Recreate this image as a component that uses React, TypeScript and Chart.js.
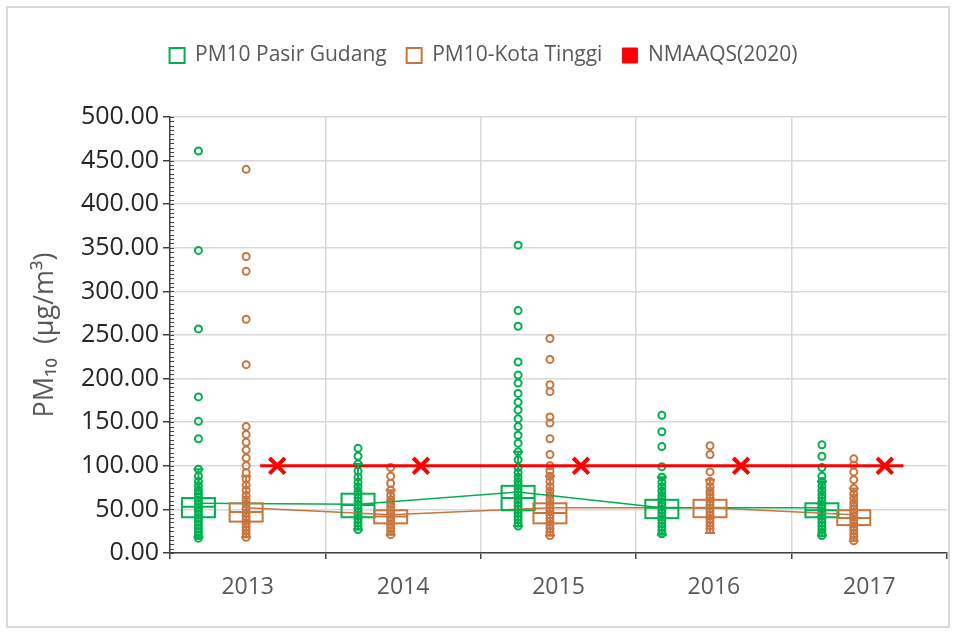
import React, { useEffect, useRef } from 'react';
import { Chart, registerables } from 'chart.js';

Chart.register(...registerables);

const years = ['2013', '2014', '2015', '2016', '2017'];

// x positions (in year-units, 0..5) of each column
const pasirX = [0.183, 1.21, 2.24, 3.165, 4.195];
const kotaX = [0.49, 1.42, 2.445, 3.475, 4.4];
const limitX = [0.69, 1.615, 2.645, 3.675, 4.6];
const limitLineEnds = [0.58, 4.72];
const limitValue = 100;

const yTicksMax = 500;
const yTickStep = 50;

// PM10 Pasir Gudang daily values by year
const pasir2013 = [461, 347, 257, 179, 151, 131, 96, 88, 82, 77, 72, 68, 64, 60, 56, 52, 48, 44, 40, 36, 32, 28, 24, 20, 17];
const pasir2014 = [120, 111, 102, 94, 87, 81, 76, 71, 67, 63, 59, 55, 51, 47, 43, 39, 35, 31, 27];
const pasir2015 = [353, 278, 260, 219, 204, 195, 183, 173, 164, 154, 145, 135, 126, 116, 107, 98, 92, 87, 82, 78, 74, 70, 66, 62, 58, 54, 50, 46, 42, 38, 34, 31];
const pasir2016 = [158, 139, 122, 99, 87, 81, 76, 71, 66, 62, 58, 54, 50, 46, 42, 38, 34, 30, 26, 22];
const pasir2017 = [124, 111, 98, 88, 82, 77, 72, 67, 63, 59, 55, 51, 47, 43, 39, 35, 31, 27, 23, 20];

// PM10 Kota Tinggi daily values by year
const kota2013 = [440, 340, 323, 268, 216, 145, 136, 127, 118, 109, 100, 92, 85, 78, 72, 66, 61, 56, 51, 46, 42, 38, 34, 30, 26, 22, 18];
const kota2014 = [98, 88, 80, 72, 66, 61, 57, 53, 49, 45, 41, 37, 33, 29, 25, 21];
const kota2015 = [246, 222, 193, 185, 156, 149, 131, 113, 100, 94, 88, 82, 76, 71, 66, 61, 56, 52, 48, 44, 40, 36, 32, 28, 24, 20];
const kota2016 = [123, 113, 93, 82, 76, 71, 67, 63, 59, 55, 51, 47, 43, 39, 35, 31, 27];
const kota2017 = [108, 101, 93, 84, 74, 68, 63, 58, 54, 50, 46, 42, 38, 34, 30, 26, 22, 18, 14];

const pasirValues = [pasir2013, pasir2014, pasir2015, pasir2016, pasir2017];
const kotaValues = [kota2013, kota2014, kota2015, kota2016, kota2017];

// summary statistics
const pasirMean = [57, 56, 70, 52, 52];
const pasirQ1 = [41, 41, 49, 40, 41];
const pasirMedian = [53, 55, 63, 52, 49];
const pasirQ3 = [63, 68, 77, 61, 57];
const pasirWhiskerLow = [18, 27, 31, 21, 20];
const pasirWhiskerHigh = [96, 102, 116, 87, 82];

const kotaMean = [52, 44, 52, 52, 44];
const kotaQ1 = [36, 34, 34, 41, 32];
const kotaMedian = [47, 42, 46, 52, 40];
const kotaQ3 = [57, 49, 57, 61, 49];
const kotaWhiskerLow = [18, 21, 20, 23, 14];
const kotaWhiskerHigh = [88, 72, 88, 84, 74];

const GREEN = '#00B050';
const BROWN = '#C8763F';
const RED = '#FF0000';
const FONT = '"Open Sans", Lato, sans-serif';

const boxPlugin = {
  id: 'boxStats',
  afterDatasetsDraw(chart: any) {
    const { ctx, scales } = chart;
    const x = scales.x;
    const y = scales.y;
    const groups = [
      { xs: pasirX, q1: pasirQ1, med: pasirMedian, q3: pasirQ3, lo: pasirWhiskerLow, hi: pasirWhiskerHigh, color: GREEN },
      { xs: kotaX, q1: kotaQ1, med: kotaMedian, q3: kotaQ3, lo: kotaWhiskerLow, hi: kotaWhiskerHigh, color: BROWN },
    ];
    ctx.save();
    for (const g of groups) {
      ctx.strokeStyle = g.color;
      ctx.lineWidth = 2;
      for (let i = 0; i < g.xs.length; i++) {
        const cx = x.getPixelForValue(g.xs[i]);
        const top = y.getPixelForValue(g.q3[i]);
        const bot = y.getPixelForValue(g.q1[i]);
        const med = y.getPixelForValue(g.med[i]);
        const lo = y.getPixelForValue(g.lo[i]);
        const hi = y.getPixelForValue(g.hi[i]);
        const hw = 16.5;
        const cap = 5;
        ctx.beginPath();
        ctx.moveTo(cx, lo);
        ctx.lineTo(cx, hi);
        ctx.moveTo(cx - cap, lo);
        ctx.lineTo(cx + cap, lo);
        ctx.moveTo(cx - cap, hi);
        ctx.lineTo(cx + cap, hi);
        ctx.stroke();
        ctx.strokeRect(cx - hw, top, hw * 2, bot - top);
        ctx.beginPath();
        ctx.moveTo(cx - hw, med);
        ctx.lineTo(cx + hw, med);
        ctx.stroke();
      }
    }
    ctx.restore();
  },
};

const minorTickPlugin = {
  id: 'minorTicks',
  afterDraw(chart: any) {
    const { ctx, scales } = chart;
    const y = scales.y;
    const left = chart.chartArea.left;
    ctx.save();
    ctx.strokeStyle = '#404040';
    ctx.lineWidth = 1;
    for (let v = 0; v <= yTicksMax; v += yTickStep / 10) {
      const py = Math.round(y.getPixelForValue(v)) + 0.5;
      ctx.beginPath();
      ctx.moveTo(left, py);
      ctx.lineTo(left + 4, py);
      ctx.stroke();
    }
    ctx.restore();
  },
};

const legendSpacer = {
  id: 'legendSpacer',
  beforeInit(chart: any) {
    const legend = chart.legend;
    if (!legend) return;
    const orig = legend.fit;
    legend.fit = function fit() {
      orig.bind(legend)();
      this.height += 41;
    };
  },
};

export default function App() {
  const ref = useRef<HTMLCanvasElement | null>(null);

  useEffect(() => {
    if (!ref.current) return;
    const pasirPoints = pasirValues.flatMap((vals, i) => vals.map((v) => ({ x: pasirX[i], y: v })));
    const kotaPoints = kotaValues.flatMap((vals, i) => vals.map((v) => ({ x: kotaX[i], y: v })));
    const chart = new Chart(ref.current, {
      type: 'scatter',
      data: {
        datasets: [
          {
            label: 'NMAAQS(2020)',
            data: limitLineEnds.map((x) => ({ x, y: limitValue })),
            showLine: true,
            borderColor: RED,
            backgroundColor: RED,
            borderWidth: 3,
            pointRadius: 0,
          },
          {
            label: 'NMAAQS markers',
            data: limitX.map((x) => ({ x, y: limitValue })),
            showLine: false,
            pointStyle: 'crossRot',
            pointRadius: 11,
            borderWidth: 4,
            borderColor: RED,
            backgroundColor: RED,
          },
          {
            label: 'Pasir mean',
            data: pasirX.map((x, i) => ({ x, y: pasirMean[i] })),
            showLine: true,
            borderColor: GREEN,
            borderWidth: 1.5,
            pointRadius: 0,
          },
          {
            label: 'Kota mean',
            data: kotaX.map((x, i) => ({ x, y: kotaMean[i] })),
            showLine: true,
            borderColor: BROWN,
            borderWidth: 1.5,
            pointRadius: 0,
          },
          {
            label: 'PM10 Pasir Gudang',
            data: pasirPoints,
            pointStyle: 'circle',
            pointRadius: 3.5,
            borderWidth: 2,
            borderColor: GREEN,
            backgroundColor: 'rgba(255,255,255,0)',
          },
          {
            label: 'PM10-Kota Tinggi',
            data: kotaPoints,
            pointStyle: 'circle',
            pointRadius: 3.5,
            borderWidth: 2,
            borderColor: BROWN,
            backgroundColor: 'rgba(255,255,255,0)',
          },
        ],
      },
      options: {
        animation: false,
        responsive: true,
        maintainAspectRatio: false,
        layout: { autoPadding: false, padding: { top: 25, left: 20, right: 7, bottom: 10 } },
        plugins: {
          tooltip: { enabled: false },
          legend: {
            display: true,
            position: 'top',
            labels: {
              color: '#595959',
              font: { family: FONT, size: 21 },
              boxWidth: 15,
              boxHeight: 15,
              padding: 20,
              generateLabels: () => [
                { text: 'PM10 Pasir Gudang', fillStyle: '#FFFFFF', strokeStyle: GREEN, lineWidth: 2, fontColor: '#595959', datasetIndex: 4 },
                { text: 'PM10-Kota Tinggi', fillStyle: '#FFFFFF', strokeStyle: BROWN, lineWidth: 2, fontColor: '#595959', datasetIndex: 5 },
                { text: 'NMAAQS(2020)', fillStyle: RED, strokeStyle: RED, lineWidth: 1, fontColor: '#595959', datasetIndex: 0 },
              ] as any,
            },
          },
        },
        scales: {
          x: {
            type: 'linear',
            min: 0,
            max: years.length,
            afterFit: (scale: any) => {
              scale.height = 70;
            },
            ticks: {
              stepSize: 0.5,
              autoSkip: false,
              maxRotation: 0,
              padding: 5,
              color: '#595959',
              font: { family: FONT, size: 23, lineHeight: 2 },
              callback: (v: any) => {
                const n = Number(v);
                if (Math.abs(n - Math.floor(n) - 0.5) < 1e-6) return years[Math.floor(n)];
                return '';
              },
            },
            grid: {
              color: (c: any) => {
                const v = c.tick ? c.tick.value : 0;
                return Number.isInteger(v) && v > 0 && v < years.length ? '#D9D9D9' : 'rgba(0,0,0,0)';
              },
              lineWidth: 1.5,
              tickColor: (c: any) => {
                const v = c.tick ? c.tick.value : 0;
                return Number.isInteger(v) ? '#404040' : 'rgba(0,0,0,0)';
              },
              tickLength: 6,
              tickWidth: 1.5,
            },
            border: { color: '#404040', width: 1.5 },
          },
          y: {
            type: 'linear',
            min: 0,
            max: yTicksMax,
            afterFit: (scale: any) => {
              scale.width = 150;
            },
            title: {
              display: true,
              text: 'PM₁₀  (µg/m³)',
              color: '#595959',
              font: { family: FONT, size: 27 },
              padding: { top: 9, bottom: 0 },
            },
            ticks: {
              stepSize: yTickStep,
              color: '#262626',
              font: { family: FONT, size: 25 },
              padding: 4,
              callback: (v: any) => Number(v).toFixed(2),
            },
            grid: {
              color: '#D9D9D9',
              lineWidth: 1.5,
              tickColor: '#404040',
              tickLength: 7,
              tickWidth: 1.5,
            },
            border: { color: '#404040', width: 1.5 },
          },
        },
      },
      plugins: [legendSpacer, boxPlugin, minorTickPlugin],
    } as any);
    return () => chart.destroy();
  }, []);

  return (
    <div style={{ position: 'fixed', left: 0, top: 0, width: 954, height: 633, background: '#FFFFFF' }}>
      <canvas ref={ref} />
      <div
        style={{
          position: 'absolute',
          left: 6,
          top: 6,
          width: 944,
          height: 622,
          border: '2px solid #D9D9D9',
          boxSizing: 'border-box',
          pointerEvents: 'none',
        }}
      />
    </div>
  );
}
